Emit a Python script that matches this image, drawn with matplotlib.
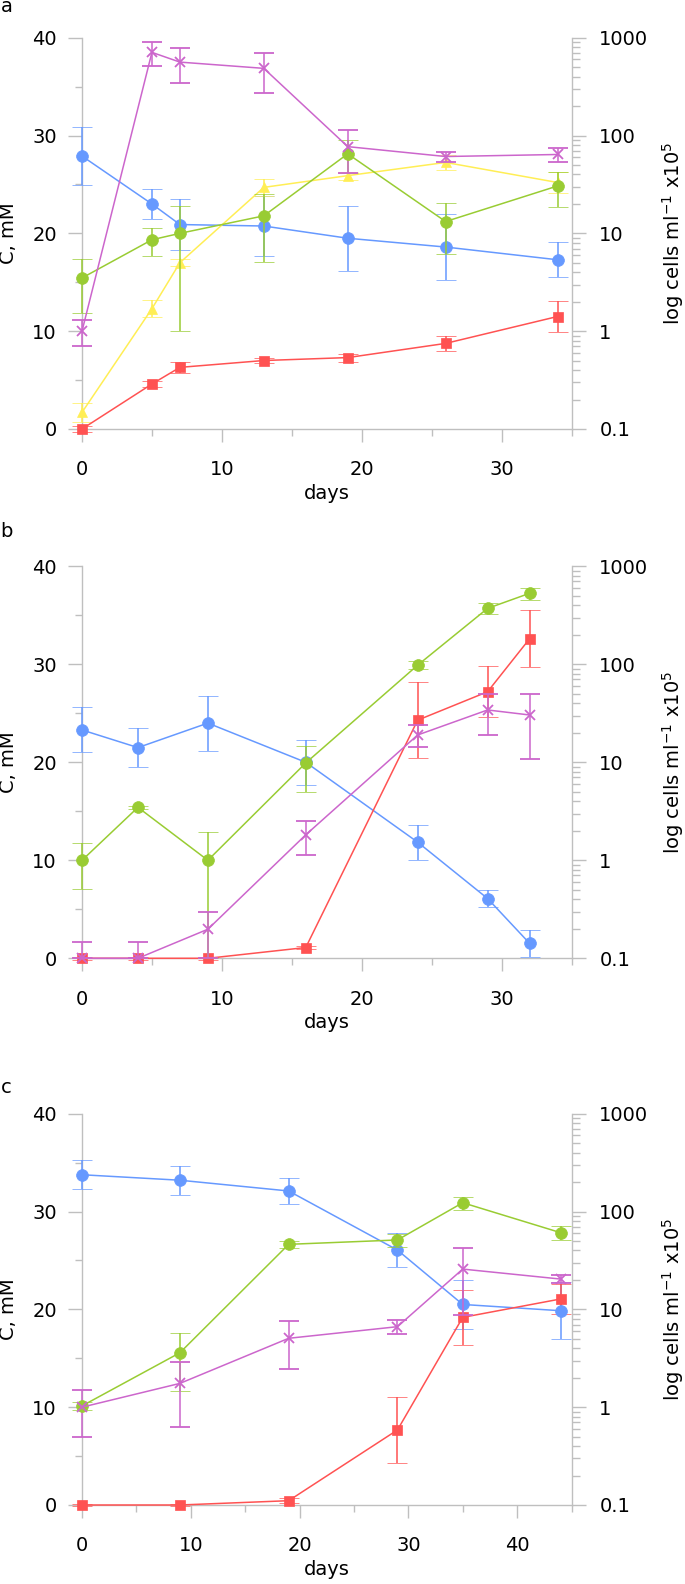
import numpy as np
import matplotlib
matplotlib.use("Agg")
import matplotlib.pyplot as plt
from matplotlib.ticker import MultipleLocator, FixedLocator, FuncFormatter, NullFormatter

plt.rcParams['font.family'] = ['DejaVu Sans']
plt.rcParams['mathtext.fontset'] = 'dejavusans'

# ---------------- data ----------------
# panel a
days_a = [0, 5, 7, 13, 19, 26, 34]
a_blue = [27.9, 23.0, 20.9, 20.75, 19.5, 18.6, 17.3]
a_blue_err = [3.0, 1.5, 2.6, 3.1, 3.3, 3.4, 1.8]
a_yellow = [1.7, 12.3, 17.0, 24.7, 25.9, 27.25, 25.2]
a_yellow_err = [1.0, 0.9, 0.35, 0.85, 0.4, 0.8, 1.1]
a_red = [0.0, 4.6, 6.3, 7.0, 7.3, 8.75, 11.5]
a_red_err = [0.3, 0.3, 0.6, 0.3, 0.4, 0.8, 1.6]
a_green = [3.5, 8.6, 10.0, 15.1, 65, 13.2, 30.5]          # cells (log axis)
a_green_err = [1.95, 2.7, 9.0, 10, 24, 7, 12]
a_magenta = [1.0, 708, 563, 486, 77, 61, 64]             # cells (log axis)
a_magenta_err = [0.3, 190, 220, 215, 36, 7.5, 11]

# panel b
days_b = [0, 4, 9, 16, 24, 29, 32]
b_blue = [23.3, 21.5, 24.0, 20.0, 11.85, 6.1, 1.53]
b_blue_err = [2.3, 2.0, 2.8, 2.3, 1.8, 0.85, 1.4]
b_red = [0.0, 0.0, 0.0, 1.1, 24.3, 27.2, 32.6]
b_red_err = [0.15, 0.15, 0.15, 0.2, 3.9, 2.6, 2.9]
b_green = [1.0, 3.47, 1.0, 9.85, 98, 372, 530]
b_green_err = [0.49, 0.1, 0.95, 4.9, 9, 49, 73]
b_magenta = [0.1, 0.1, 0.198, 1.82, 19.0, 34.2, 30.4]
b_magenta_err = [0.048, 0.048, 0.1, 0.7, 4.8, 15, 19.6]

# panel c
days_c = [0, 9, 19, 29, 35, 44]
c_blue = [33.76, 33.2, 32.1, 26.06, 20.5, 19.86]
c_blue_err = [1.5, 1.5, 1.35, 1.75, 2.5, 2.9]
c_red = [0.0, 0.0, 0.44, 7.67, 19.18, 21.06]
c_red_err = [0.15, 0.15, 0.25, 3.37, 2.8, 1.5]
c_green = [1.03, 3.6, 46.2, 51.2, 123, 60.8]
c_green_err = [0.1, 2.15, 4, 8, 19, 9.5]
c_magenta = [1.0, 1.75, 5.06, 6.65, 25.8, 20.4]
c_magenta_err = [0.5, 1.13, 2.6, 1.1, 17, 2]

x_ticks_ab = [0, 10, 20, 30]
x_ticks_c = [0, 10, 20, 30, 40]
y_ticks_left = [0, 10, 20, 30, 40]
y_ticks_right = [0.1, 1, 10, 100, 1000]

BLUE = '#6699FF'
RED = '#FF5252'
YELLOW = '#FFEE55'
GREEN = '#99CC33'
MAGENTA = '#CC66CC'
GRAY = '#BFBFBF'

W, H = 685, 1584
fig = plt.figure(figsize=(W / 100, H / 100), dpi=100)

LEFT, RIGHT = 82, 571.5
panels = [
    dict(top=37.7, bottom=429.0, xmax=35, xt=x_ticks_ab, days=days_a,
         left=[(a_blue, a_blue_err, BLUE, 'o', 8.5),
               (a_yellow, a_yellow_err, YELLOW, '^', 7.5),
               (a_red, a_red_err, RED, 's', 7.5)],
         right=[(a_green, a_green_err, GREEN, 'o', 8.5),
                (a_magenta, a_magenta_err, MAGENTA, 'x', 7.5)],
         letter='a', letter_base=12),
    dict(top=566.3, bottom=958.3, xmax=35, xt=x_ticks_ab, days=days_b,
         left=[(b_blue, b_blue_err, BLUE, 'o', 8.5),
               (b_red, b_red_err, RED, 's', 7.5)],
         right=[(b_green, b_green_err, GREEN, 'o', 8.5),
                (b_magenta, b_magenta_err, MAGENTA, 'x', 7.5)],
         letter='b', letter_base=537),
    dict(top=1113.7, bottom=1505.0, xmax=45, xt=x_ticks_c, days=days_c,
         left=[(c_blue, c_blue_err, BLUE, 'o', 8.5),
               (c_red, c_red_err, RED, 's', 7.5)],
         right=[(c_green, c_green_err, GREEN, 'o', 8.5),
                (c_magenta, c_magenta_err, MAGENTA, 'x', 7.5)],
         letter='c', letter_base=1093),
]

FS = 14

for p in panels:
    rect = [LEFT / W, 1 - p['bottom'] / H, (RIGHT - LEFT) / W, (p['bottom'] - p['top']) / H]
    ax = fig.add_axes(rect)
    ax2 = ax.twinx()

    ax.set_xlim(0, p['xmax'])
    ax.set_ylim(0, 40)
    ax2.set_yscale('log')
    ax2.set_ylim(0.1, 1000)

    for s in ['top', 'right']:
        ax.spines[s].set_visible(False)
    for s in ['top', 'left', 'bottom']:
        ax2.spines[s].set_visible(False)
    for s in ['left', 'bottom']:
        ax.spines[s].set_color(GRAY)
        ax.spines[s].set_linewidth(1.0)
    ax2.spines['right'].set_color(GRAY)
    ax2.spines['right'].set_linewidth(1.0)

    ax.xaxis.set_major_locator(FixedLocator(p['xt']))
    ax.xaxis.set_minor_locator(MultipleLocator(5))
    ax.yaxis.set_major_locator(FixedLocator(y_ticks_left))
    ax.yaxis.set_minor_locator(MultipleLocator(5))
    ax2.yaxis.set_major_locator(FixedLocator(y_ticks_right))
    ax2.yaxis.set_minor_locator(matplotlib.ticker.LogLocator(base=10, subs=np.arange(2, 10)))
    ax2.yaxis.set_major_formatter(FuncFormatter(lambda v, pos: '%g' % v))
    ax2.yaxis.set_minor_formatter(NullFormatter())

    ax.tick_params(axis='y', which='major', direction='out', length=10, width=1,
                   color=GRAY, pad=8, labelsize=FS)
    ax.tick_params(axis='y', which='minor', direction='out', length=5, width=1, color=GRAY)
    ax.tick_params(axis='x', which='major', direction='out', length=9.6, width=1,
                   color=GRAY, pad=13, labelsize=FS)
    ax.tick_params(axis='x', which='minor', direction='out', length=5, width=1, color=GRAY)
    ax2.tick_params(axis='y', which='major', direction='out', length=10, width=1,
                    color=GRAY, pad=10, labelsize=FS)
    ax2.tick_params(axis='y', which='minor', direction='out', length=5.5, width=1, color=GRAY)

    for vals, errs, col, mk, ms in p['left']:
        ax.errorbar(p['days'], vals, yerr=errs, color=col, ecolor=col, marker=mk,
                    markersize=ms, linewidth=1.1, elinewidth=1.1, capsize=7.5,
                    capthick=1.1, markeredgewidth=0.5,
                    clip_on=False, zorder=3)
    for vals, errs, col, mk, ms in p['right']:
        v = np.array(vals, dtype=float)
        e = np.array(errs, dtype=float)
        lo = np.minimum(e, v - 0.1)   # stop at the bottom of the log axis
        ax2.errorbar(p['days'], v, yerr=[lo, e], color=col, ecolor=col, marker=mk,
                     markersize=ms, linewidth=1.1, elinewidth=1.1, capsize=7.5,
                     capthick=1.1, markeredgewidth=1.3 if mk == 'x' else 0.5,
                     clip_on=False, zorder=3)

    ax.set_xlabel('days', fontsize=FS, labelpad=3)

    yc = 1 - (p['top'] + p['bottom']) / 2 / H
    fig.text(9 / W, yc, 'C, mM', rotation=90, ha='center', va='center', fontsize=FS)
    fig.text(673 / W, yc, r'log cells ml$^{-1}$ x10$^{5}$', rotation=90,
             ha='center', va='center', fontsize=FS)
    fig.text(0.5 / W, 1 - p['letter_base'] / H, p['letter'], ha='left',
             va='baseline', fontsize=FS)

fig.savefig('out.png', dpi=100)
